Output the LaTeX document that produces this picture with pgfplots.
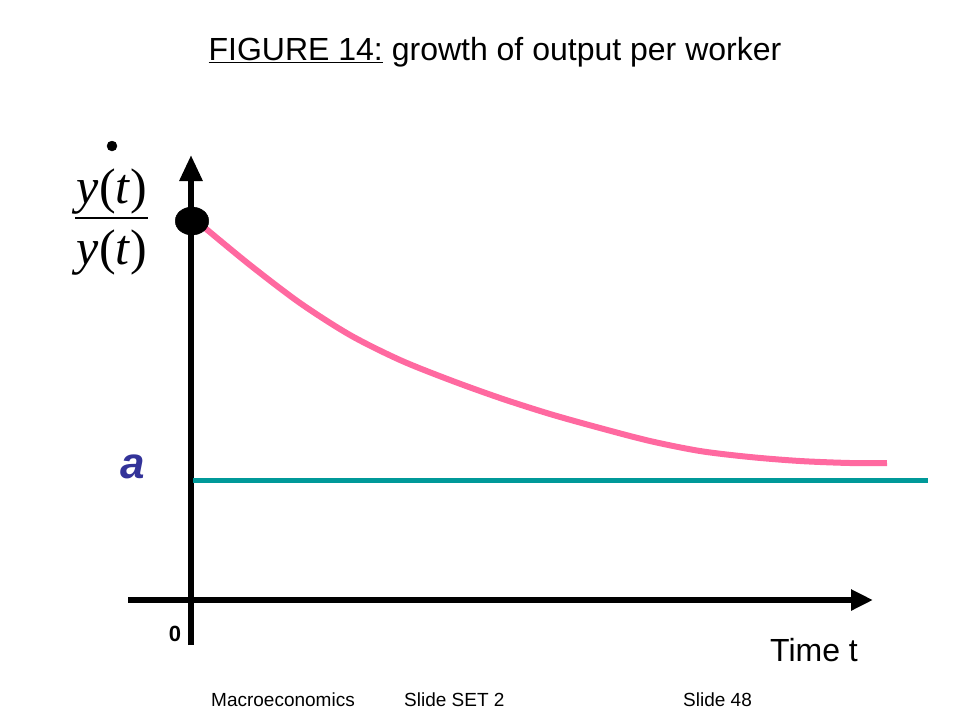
\documentclass[border=0pt]{standalone}
\usepackage{fontspec}
\setmainfont{Liberation Sans}
\newfontfamily\timesfont{Liberation Serif}
\usepackage{pgfplots}
\pgfplotsset{compat=1.18}
\usetikzlibrary{arrows.meta}
\definecolor{curvepink}{RGB}{255,105,160}
\definecolor{teal}{RGB}{0,153,153}
\definecolor{ablue}{RGB}{51,51,153}
\begin{document}
\begin{tikzpicture}
\path[use as bounding box] (0,0) rectangle (960bp,720bp);
\begin{axis}[
    at={(0,0)}, anchor=south west,
    scale only axis, width=960bp, height=720bp,
    xmin=0, xmax=960, ymin=0, ymax=720,
    y dir=reverse,
    axis lines=none, clip=false,
]
% axes
\addplot[black, line width=6bp, -{Triangle[length=26bp,width=22bp]}]
    coordinates {(191,645) (191,155)};
\addplot[black, line width=6bp, -{Triangle[length=22bp,width=20bp]}]
    coordinates {(128,600) (873,600)};
% steady state growth a
\addplot[teal, line width=5bp] coordinates {(193,480) (928,480)};
% growth of output per worker
\addplot[curvepink, line width=6bp, smooth] coordinates {
    (205,228) (250,265) (300,303) (350,335) (400,360) (450,380)
    (500,398) (550,414) (600,428) (650,441) (700,451) (750,457)
    (800,461) (850,463) (887,463)};
% starting point
\addplot[only marks, mark=*, mark size=14bp, mark options={xscale=1.2, fill=black, draw=black}]
    coordinates {(192,221)};
% dot over y
\addplot[only marks, mark=*, mark size=5bp, mark options={fill=black, draw=black}]
    coordinates {(112,146)};
% fraction bar
\addplot[black, line width=1.5bp] coordinates {(75,218) (148,218)};

% text
\node[anchor=base] at (axis cs:495,60)
    {\fontsize{32bp}{38bp}\selectfont\underline{FIGURE 14:} growth of output per worker};
\node[anchor=base, inner sep=0pt] at (axis cs:112,203)
    {\fontsize{50bp}{60bp}\selectfont\timesfont\textit{y}(\textit{t})};
\node[anchor=base, inner sep=0pt] at (axis cs:112,264)
    {\fontsize{50bp}{60bp}\selectfont\timesfont\textit{y}(\textit{t})};
\node[anchor=base, inner sep=0pt, text=ablue] at (axis cs:133,478)
    {\fontsize{44bp}{52bp}\selectfont\bfseries\itshape a};
\node[anchor=base, inner sep=0pt] at (axis cs:175,641)
    {\fontsize{22bp}{26bp}\selectfont\bfseries 0};
\node[anchor=base west, inner sep=0pt] at (axis cs:770,661)
    {\fontsize{32bp}{38bp}\selectfont Time t};
\node[anchor=base west, inner sep=0pt] at (axis cs:211,706)
    {\fontsize{19bp}{23bp}\selectfont Macroeconomics};
\node[anchor=base west, inner sep=0pt] at (axis cs:404,706)
    {\fontsize{19bp}{23bp}\selectfont Slide SET 2};
\node[anchor=base west, inner sep=0pt] at (axis cs:683,706)
    {\fontsize{19bp}{23bp}\selectfont Slide 48};
\end{axis}
\end{tikzpicture}
\end{document}
